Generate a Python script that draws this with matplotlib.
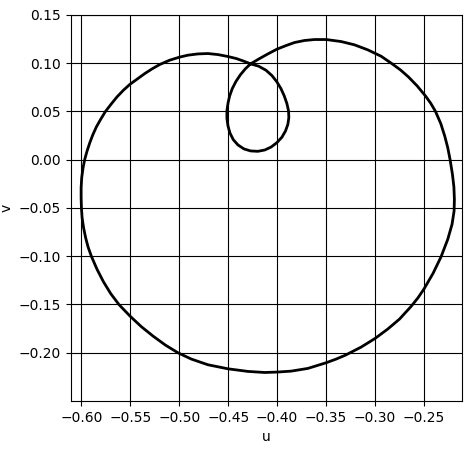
import matplotlib
matplotlib.use("Agg")
import matplotlib.pyplot as plt

# points, in drawing order:
# start at the self-crossing, go round the small loop, then the big one
u = [-0.4271, -0.4325, -0.4376, -0.4421, -0.4458, -0.4485, -0.4502, -0.4513,
     -0.4513, -0.4502, -0.4482, -0.4448, -0.4400, -0.4339, -0.4271, -0.4196,
     -0.4125, -0.4060, -0.4002, -0.3951, -0.3914, -0.3890, -0.3880, -0.3883,
     -0.3900, -0.3927, -0.3961, -0.4002, -0.4053, -0.4114, -0.4189,
     -0.4271, -0.4349, -0.4417, -0.4502, -0.4604, -0.4707, -0.4809, -0.4911,
     -0.4999, -0.5098, -0.5200, -0.5278, -0.5353, -0.5428, -0.5503, -0.5571,
     -0.5636, -0.5697, -0.5755, -0.5803, -0.5847, -0.5884, -0.5915, -0.5942,
     -0.5966, -0.5983, -0.5997, -0.6003, -0.6003, -0.6000, -0.5993, -0.5978,
     -0.5957, -0.5932, -0.5898, -0.5840, -0.5775, -0.5700, -0.5615, -0.5503,
     -0.5387, -0.5268, -0.5142, -0.5013, -0.4877, -0.4707, -0.4502, -0.4298,
     -0.4128, -0.4002, -0.3856, -0.3686, -0.3498, -0.3396, -0.3301, -0.3141,
     -0.2998, -0.2869, -0.2749, -0.2630, -0.2562, -0.2501, -0.2406, -0.2324,
     -0.2256, -0.2212, -0.2191, -0.2188, -0.2193, -0.2208, -0.2232, -0.2256,
     -0.2287, -0.2327, -0.2382, -0.2430, -0.2484, -0.2569, -0.2658, -0.2739,
     -0.2828, -0.2937, -0.3073, -0.3209, -0.3345, -0.3498, -0.3617, -0.3720,
     -0.3822, -0.3907, -0.4002, -0.4094, -0.4179, -0.4271]
v = [0.0992, 0.0940, 0.0878, 0.0809, 0.0736, 0.0660, 0.0584, 0.0504,
     0.0428, 0.0349, 0.0276, 0.0207, 0.0152, 0.0111, 0.0090, 0.0086,
     0.0100, 0.0131, 0.0176, 0.0232, 0.0297, 0.0366, 0.0435, 0.0504,
     0.0581, 0.0660, 0.0736, 0.0805, 0.0871, 0.0926, 0.0968,
     0.0992, 0.1023, 0.1047, 0.1068, 0.1088, 0.1099, 0.1095, 0.1082,
     0.1061, 0.1030, 0.0985, 0.0940, 0.0891, 0.0836, 0.0781, 0.0719,
     0.0650, 0.0574, 0.0498, 0.0418, 0.0339, 0.0256, 0.0173, 0.0090,
     0.0003, -0.0083, -0.0187, -0.0290, -0.0394, -0.0498, -0.0601, -0.0705,
     -0.0809, -0.0905, -0.1002, -0.1137, -0.1265, -0.1389, -0.1503, -0.1621,
     -0.1731, -0.1828, -0.1921, -0.2001, -0.2066, -0.2125, -0.2167, -0.2194,
     -0.2205, -0.2201, -0.2191, -0.2163, -0.2104, -0.2066, -0.2025, -0.1942,
     -0.1852, -0.1755, -0.1652, -0.1520, -0.1434, -0.1344, -0.1178, -0.1006,
     -0.0826, -0.0670, -0.0532, -0.0411, -0.0283, -0.0152, 0.0000, 0.0124,
     0.0245, 0.0373, 0.0501, 0.0584, 0.0660, 0.0764, 0.0857, 0.0929,
     0.0995, 0.1071, 0.1137, 0.1189, 0.1223, 0.1244, 0.1244, 0.1234,
     0.1213, 0.1182, 0.1144, 0.1095, 0.1047, 0.0992]

fig = plt.figure(figsize=(4.73, 4.49), dpi=100)
ax = fig.add_axes([0.150, 0.107, 0.827, 0.860])

ax.plot(u, v, color="k", linewidth=2, solid_joinstyle="round")
ax.grid(True, color="k")

ax.set_xlim(-0.6107, -0.2109)
ax.set_ylim(-0.25, 0.15)
ax.set_xticks([-0.60, -0.55, -0.50, -0.45, -0.40, -0.35, -0.30, -0.25])
ax.set_yticks([-0.20, -0.15, -0.10, -0.05, 0.00, 0.05, 0.10, 0.15])
ax.set_xlabel("u")
ax.set_ylabel("v")

fig.savefig("out.png", dpi=100)
